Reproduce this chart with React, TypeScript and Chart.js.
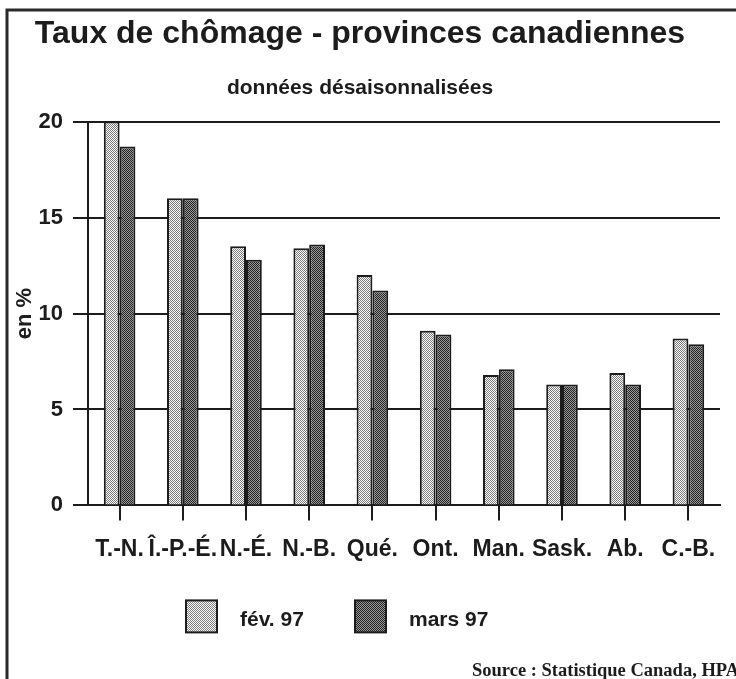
import React, { useEffect, useRef } from "react";
import { Chart, registerables } from "chart.js";

Chart.register(...registerables);

const categories = ["T.-N.", "Î.-P.-É.", "N.-É.", "N.-B.", "Qué.", "Ont.", "Man.", "Sask.", "Ab.", "C.-B."];
const fev97 = [20.0, 16.0, 13.5, 13.4, 12.0, 9.1, 6.8, 6.3, 6.9, 8.7];
const mars97 = [18.7, 16.0, 12.8, 13.6, 11.2, 8.9, 7.1, 6.3, 6.3, 8.4];
const seriesLabels = ["fév. 97", "mars 97"];
const yMin = 0;
const yMax = 20;
const yStep = 5;
const titleText = "Taux de chômage - provinces canadiennes";
const subtitleText = "données désaisonnalisées";
const yAxisTitle = "en %";
const sourceText = "Source : Statistique Canada, HPA";

const INK = "#1c1c1c";
const SANS = "'Liberation Sans', Arial, Helvetica, sans-serif";
const SERIF = "'Liberation Serif', 'Times New Roman', serif";

function makePattern(a: string, b: string): CanvasPattern | string {
  const c = document.createElement("canvas");
  c.width = 2;
  c.height = 2;
  const g = c.getContext("2d");
  if (!g) return a;
  g.fillStyle = a;
  g.fillRect(0, 0, 2, 2);
  g.fillStyle = b;
  g.fillRect(0, 0, 1, 1);
  g.fillRect(1, 1, 1, 1);
  const ctx = document.createElement("canvas").getContext("2d");
  const p = ctx ? ctx.createPattern(c, "repeat") : null;
  return p || a;
}

export default function App() {
  const ref = useRef<HTMLCanvasElement | null>(null);

  useEffect(() => {
    const canvas = ref.current;
    if (!canvas) return;
    const patFev = makePattern("#ffffff", "#7a7a7a");
    const patMars = makePattern("#9a9a9a", "#222222");
    const patterns = [patFev, patMars];

    const decor = {
      id: "decor",
      beforeDraw(chart: any) {
        const ctx = chart.ctx;
        ctx.save();
        ctx.fillStyle = "#ffffff";
        ctx.fillRect(0, 0, chart.width, chart.height);
        ctx.strokeStyle = "#2a2a2a";
        ctx.lineWidth = 3;
        ctx.beginPath();
        ctx.moveTo(7, chart.height + 2);
        ctx.lineTo(7, 10);
        ctx.lineTo(chart.width + 2, 10);
        ctx.stroke();
        ctx.restore();
      },
      afterDraw(chart: any) {
        const ctx = chart.ctx;
        const ca = chart.chartArea;
        ctx.save();
        const boxY = ca.bottom + 95;
        const boxW = 31;
        const boxH = 32;
        const items = [
          { x: 186, tx: 240 },
          { x: 355, tx: 409 },
        ];
        chart.data.datasets.forEach((ds: any, i: number) => {
          const it = items[i];
          ctx.fillStyle = patterns[i];
          ctx.fillRect(it.x, boxY, boxW, boxH);
          ctx.strokeStyle = INK;
          ctx.lineWidth = 2;
          ctx.strokeRect(it.x, boxY, boxW, boxH);
          ctx.fillStyle = INK;
          ctx.font = "bold 21px " + SANS;
          ctx.textBaseline = "alphabetic";
          ctx.textAlign = "left";
          ctx.fillText(ds.label, it.tx, boxY + 26);
        });
        ctx.font = "bold 18.5px " + SERIF;
        ctx.fillStyle = INK;
        ctx.textAlign = "left";
        ctx.textBaseline = "alphabetic";
        ctx.fillText(sourceText, 472, chart.height - 3);
        ctx.restore();
      },
    };

    const chart = new Chart(canvas, {
      type: "bar",
      data: {
        labels: categories,
        datasets: [
          {
            label: seriesLabels[0],
            data: fev97,
            backgroundColor: patFev as any,
            borderColor: INK,
            borderWidth: 2,
            borderSkipped: "bottom",
            categoryPercentage: 0.5,
            barPercentage: 1,
          },
          {
            label: seriesLabels[1],
            data: mars97,
            backgroundColor: patMars as any,
            borderColor: INK,
            borderWidth: 2,
            borderSkipped: "bottom",
            categoryPercentage: 0.5,
            barPercentage: 1,
          },
        ],
      },
      options: {
        responsive: false,
        animation: false,
        layout: { padding: { left: 0, right: 16, top: 0, bottom: 101 } },
        plugins: {
          legend: { display: false },
          tooltip: { enabled: false },
          title: {
            display: true,
            text: titleText,
            color: INK,
            font: { family: SANS, size: 32, weight: "bold" },
            padding: { top: 15, bottom: 22 },
          },
          subtitle: {
            display: true,
            text: subtitleText,
            color: INK,
            font: { family: SANS, size: 21, weight: "bold" },
            padding: { top: 0, bottom: 21 },
          },
        },
        scales: {
          x: {
            grid: {
              display: true,
              drawOnChartArea: false,
              drawTicks: true,
              tickLength: 15,
              offset: false,
              color: INK,
              lineWidth: 2,
            },
            border: { display: true, color: INK, width: 2 },
            ticks: {
              color: INK,
              font: { family: SANS, size: 23, weight: "bold" },
              autoSkip: false,
              maxRotation: 0,
              minRotation: 0,
              padding: 15,
            },
          },
          y: {
            min: yMin,
            max: yMax,
            afterFit(scale: any) {
              scale.width = 88;
            },
            ticks: {
              stepSize: yStep,
              color: INK,
              font: { family: SANS, size: 22, weight: "bold" },
              padding: 10,
            },
            grid: { color: INK, lineWidth: 2, tickLength: 15, drawTicks: true },
            border: { display: true, color: INK, width: 2 },
            title: {
              display: true,
              text: yAxisTitle,
              color: INK,
              font: { family: SANS, size: 22, weight: "bold", lineHeight: 1 },
              padding: { top: 14, bottom: 0 },
            },
          },
        },
      },
      plugins: [decor],
    });
    return () => chart.destroy();
  }, []);

  return (
    <div style={{ position: "absolute", left: 0, top: 0, width: 736, height: 679 }}>
      <canvas ref={ref} width={736} height={679} style={{ display: "block", width: 736, height: 679 }} />
    </div>
  );
}
